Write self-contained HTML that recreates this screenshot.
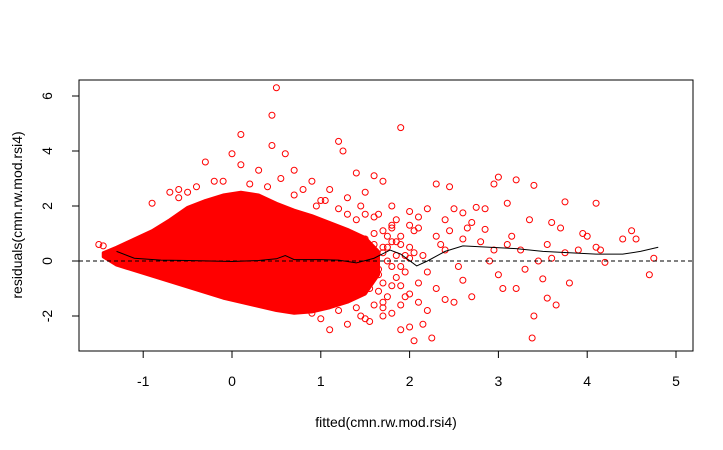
<!DOCTYPE html>
<html><head><meta charset="utf-8"><style>
body{margin:0;background:#fff}
svg{display:block;font-family:"Liberation Sans",Arial,sans-serif}
</style></head><body>
<svg id="chart" width="723" height="450"></svg>
<script>
// Data
const envX=[-1.45,-1.3,-1.1,-0.9,-0.7,-0.5,-0.3,-0.1,0.1,0.3,0.5,0.7,0.9,1.1,1.3,1.5,1.65];
const envUpper=[0.3,0.5,0.8,1.1,1.5,1.95,2.2,2.4,2.5,2.4,2.1,1.85,1.65,1.4,1.15,0.85,0.35];
const envLower=[0.15,-0.15,-0.35,-0.55,-0.75,-0.95,-1.15,-1.35,-1.5,-1.65,-1.8,-1.9,-1.85,-1.7,-1.5,-1.2,-0.5];
const ptX=[0.5,0.45,0.1,0.45,1.9,1.2,1.25,-0.3,0.6,0.0,0.1,0.7,1.4,1.6,1.7,2.3,2.45,2.95,3.0,3.2,3.4,3.75,4.1,-0.7,-0.9,-0.6,0.9,1.1,1.3,1.5,1.8,2.0,2.1,2.2,2.4,2.5,2.6,2.7,2.75,2.85,3.1,3.35,3.6,3.7,3.95,4.4,4.5,4.55,4.75,4.7,4.15,4.1,4.2,3.8,3.65,3.55,3.5,3.45,3.4,3.38,3.2,3.3,3.0,2.95,3.1,2.8,2.6,2.55,2.6,2.5,2.4,2.3,2.2,2.25,2.15,2.0,1.9,2.05,1.8,1.7,1.5,1.3,1.1,1.0,1.6,1.4,1.2,0.9,2.0,2.1,1.9,2.0,2.15,2.3,2.4,1.8,1.6,1.4,1.5,1.7,1.55,1.35,1.75,1.65,1.85,2.7,2.9,3.05,3.6,3.9,-1.5,-1.45,-1.35,-0.5,-0.2,0.3,0.55,0.8,1.0,1.2,1.3,1.45,1.65,1.85,2.05,2.35,2.45,2.65,2.85,3.15,3.25,3.55,3.75,4.0,
1.6,1.7,1.75,1.8,1.85,1.9,1.95,1.65,1.7,1.75,1.8,1.9,1.95,2.0,1.6,1.7,1.8,1.9,2.05,1.65,1.75,1.85,1.55,1.6,1.7,1.8,1.9,2.1,2.2,1.95,2.0,2.1,1.7,1.5,1.45,1.55,-0.4,-0.1,0.2,0.4,0.7,-0.6,0.95,1.05];
const ptY=[6.3,5.3,4.6,4.2,4.85,4.35,4.0,3.6,3.9,3.9,3.5,3.3,3.2,3.1,2.9,2.8,2.7,2.8,3.05,2.95,2.75,2.15,2.1,2.5,2.1,2.6,2.9,2.6,2.3,2.5,2.0,1.8,1.6,1.9,1.5,1.9,1.75,1.4,1.95,1.9,2.1,1.5,1.4,1.2,1.0,0.8,1.1,0.8,0.1,-0.5,0.4,0.5,-0.05,-0.8,-1.6,-1.35,-0.65,0.0,-2.0,-2.8,-1.0,-0.3,-0.5,0.4,0.6,0.7,0.8,-0.2,-0.7,-1.5,-1.4,-1.0,-0.4,-2.8,-2.3,-2.4,-2.5,-2.9,-1.9,-2.0,-2.1,-2.3,-2.5,-2.1,-1.6,-1.7,-1.8,-1.9,-1.2,-1.5,0.9,0.5,0.2,0.9,0.4,1.2,1.0,1.5,0.8,-0.8,-1.0,-1.2,0.5,-0.3,-0.6,-1.3,0.0,-1.0,0.1,0.4,0.6,0.55,0.3,2.5,2.9,3.3,3.0,2.6,2.2,1.9,1.7,2.0,1.7,1.5,1.1,0.6,1.1,1.2,1.15,0.9,0.4,0.6,0.3,0.9,
0.6,0.3,0.9,-0.2,0.7,-0.9,0.2,-0.5,1.1,-1.3,1.3,0.6,-0.4,1.3,1.6,-1.5,-0.9,-1.6,0.3,-1.1,0.0,0.2,-0.3,0.0,0.5,0.7,-0.2,-0.8,-1.8,-1.3,0.1,1.2,-1.7,1.7,-2.0,-2.2,2.7,2.9,2.8,2.7,2.4,2.3,2.0,2.2];
const loessX=[-1.3,-1.1,-0.8,-0.5,0,0.3,0.5,0.6,0.7,1.0,1.2,1.4,1.6,1.78,1.9,2.08,2.2,2.4,2.6,2.9,3.2,3.5,3.8,4.1,4.4,4.6,4.8];
const loessY=[0.35,0.1,0.03,0.02,-0.02,0.02,0.08,0.2,0.05,0.05,0.03,-0.07,0.1,0.4,0.25,-0.18,0.0,0.35,0.55,0.5,0.45,0.35,0.3,0.25,0.25,0.35,0.5];
const xTicks=[-1,0,1,2,3,4,5];
const yTicks=[-2,0,2,4,6];

const NS="http://www.w3.org/2000/svg";
const svg=document.getElementById('chart');
const sx=v=>232+v*88.8;
const sy=v=>261-v*27.5;
function mk(t,a,p){const e=document.createElementNS(NS,t);for(const k in a)e.setAttribute(k,a[k]);(p||svg).appendChild(e);return e;}

let pts=envX.map((x,i)=>sx(x)+','+sy(envUpper[i]));
for(let i=envX.length-1;i>=0;i--)pts.push(sx(envX[i])+','+sy(envLower[i]));
const core=mk('polygon',{points:pts.join(' '),fill:'#ff0000',stroke:'#ff0000','stroke-width':3,'stroke-linejoin':'round'});



ptX.forEach((x,i)=>{
  const c=mk('circle',{cx:sx(x),cy:sy(ptY[i]),r:3,fill:'none',stroke:'#ff0000','stroke-width':1});
  
  
});

const zl=mk('line',{x1:79,x2:693,y1:sy(0),y2:sy(0),stroke:'#000','stroke-dasharray':'4,3','stroke-width':1});



const lo=mk('polyline',{points:loessX.map((x,i)=>sx(x)+','+sy(loessY[i])).join(' '),fill:'none',stroke:'#000','stroke-width':1});



const box=mk('rect',{x:79,y:80,width:614,height:271,fill:'none',stroke:'#000','stroke-width':1});



mk('line',{x1:sx(-1),x2:sx(5),y1:351,y2:351,stroke:'#000'});
xTicks.forEach(v=>{
  mk('line',{x1:sx(v),x2:sx(v),y1:351,y2:358,stroke:'#000'});
  const t=mk('text',{x:sx(v),y:386,'text-anchor':'middle','font-size':14});
  t.textContent=v;
  
  
});
mk('line',{x1:79,x2:79,y1:sy(-2),y2:sy(6),stroke:'#000'});
yTicks.forEach(v=>{
  mk('line',{x1:72,x2:79,y1:sy(v),y2:sy(v),stroke:'#000'});
  const t=mk('text',{x:52,y:sy(v),'text-anchor':'middle','font-size':14,transform:`rotate(-90 52 ${sy(v)})`});
  t.textContent=v;
  
  
});
const xt=mk('text',{x:386,y:427,'text-anchor':'middle','font-size':14});
xt.textContent='fitted(cmn.rw.mod.rsi4)';


const yt=mk('text',{x:22,y:215,'text-anchor':'middle','font-size':14,transform:'rotate(-90 22 215)'});
yt.textContent='residuals(cmn.rw.mod.rsi4)';


</script>
</body></html>
